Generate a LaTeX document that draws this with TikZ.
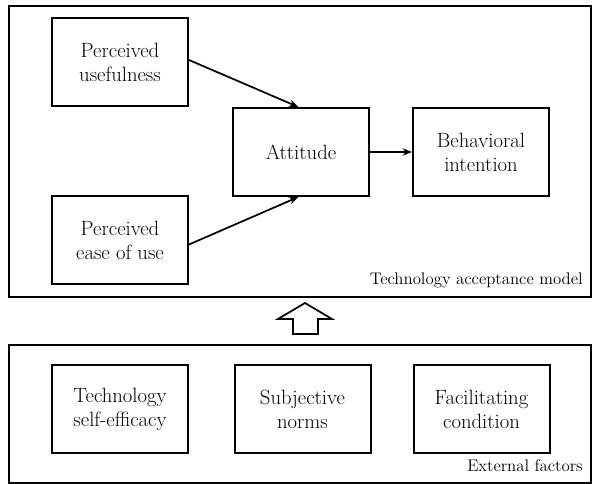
\documentclass[tikz,border=0pt]{standalone}
\usetikzlibrary{arrows.meta}

\begin{document}
\begin{tikzpicture}[x=0.75pt,y=-0.75pt,>={Stealth[length=7pt,width=5.5pt]},
  factorbox/.style={draw,line width=1.5pt,minimum width=102pt,minimum height=66pt,
    align=center,inner sep=0pt,font=\fontsize{15.5}{18}\selectfont},
  groupbox/.style={draw,line width=1.7pt},
  grouplabel/.style={anchor=base east,inner sep=0pt,font=\fontsize{12.6}{15}\selectfont},
  link/.style={->,line width=1.3pt}]
  \useasboundingbox (0,0) rectangle (594,484);

  % Top: technology acceptance model
  \draw[groupbox] (9,6) rectangle (591,297);
  \node[factorbox] (pu)   at (120,62)    {Perceived\\usefulness};
  \node[factorbox] (peou) at (120,240.5) {Perceived\\ease of use};
  \node[factorbox] (att)  at (301,152)   {Attitude};
  \node[factorbox] (bi)   at (481,152)   {Behavioral\\intention};
  \node[grouplabel] (tamlabel) at (583,285) {Technology acceptance model};

  \draw[link] ([yshift=1.5pt]pu.east) -- ([xshift=-2pt]att.north);
  \draw[link] ([yshift=-3pt]peou.east) -- ([xshift=-2pt]att.south);
  \draw[link] (att.east) -- (bi.west);

  % Block arrow: external factors feed the model
  \draw[line width=1.3pt] (305,303) -- (332,319) -- (318,319) -- (318,334)
    -- (293,334) -- (293,319) -- (278,319) -- cycle;

  % Bottom: external factors
  \draw[groupbox] (9,345) rectangle (591,483);
  \node[factorbox] (tse) at (120,409)   {Technology\\self-efficacy};
  \node[factorbox] (sn)  at (302.5,409) {Subjective\\norms};
  \node[factorbox] (fc)  at (481.5,409) {Facilitating\\condition};
  \node[grouplabel] (extlabel) at (583,472) {External factors};
\end{tikzpicture}
\end{document}
